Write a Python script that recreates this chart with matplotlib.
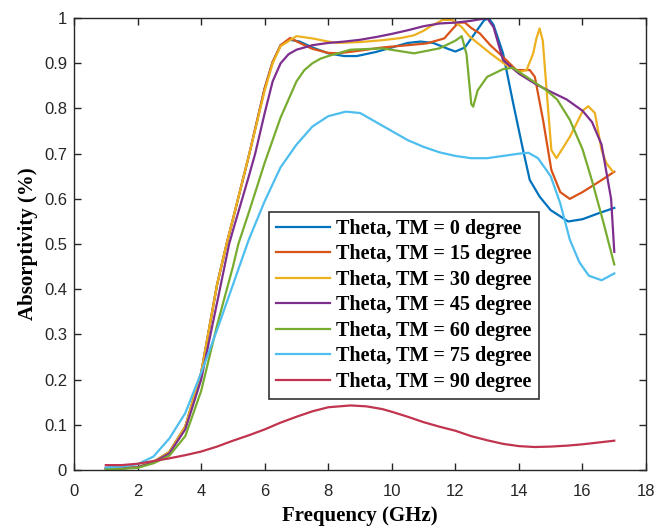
import matplotlib
matplotlib.use("Agg")
import matplotlib.pyplot as plt

# Absorptivity vs frequency for different TM incidence angles
f_0 = [1, 1.5, 2, 2.5, 3, 3.5, 4, 4.5, 4.8, 5, 5.5, 6, 6.25, 6.5, 6.8, 7.1, 7.5, 8, 8.5, 8.9,
       9.5, 10, 10.5, 10.9, 11.3, 11.8, 12, 12.3, 12.6, 12.9, 13.05, 13.2, 13.5, 13.82, 14.13,
       14.34, 14.65, 15, 15.55, 16, 16.5, 17]
a_0 = [0.004, 0.004, 0.006, 0.018, 0.04, 0.096, 0.215, 0.41, 0.5, 0.555, 0.695, 0.845, 0.903,
       0.94, 0.952, 0.948, 0.935, 0.922, 0.916, 0.916, 0.925, 0.935, 0.945, 0.948, 0.945,
       0.931, 0.926, 0.935, 0.965, 0.995, 1.0, 0.985, 0.922, 0.811, 0.708, 0.642, 0.605,
       0.575, 0.55, 0.555, 0.568, 0.58]

f_15 = [1, 1.5, 2, 2.5, 3, 3.5, 4, 4.5, 4.8, 5, 5.5, 6, 6.25, 6.5, 6.8, 7.1, 7.5, 8, 8.3, 9,
        9.7, 10.5, 11.1, 11.65, 11.9, 12.1, 12.3, 12.5, 12.77, 13.1, 13.5, 13.92, 14.34, 14.5,
        14.76, 15.02, 15.3, 15.6, 16, 16.5, 17]
a_15 = [0.004, 0.004, 0.006, 0.018, 0.04, 0.096, 0.215, 0.41, 0.5, 0.555, 0.695, 0.845, 0.903,
        0.94, 0.956, 0.945, 0.932, 0.923, 0.922, 0.928, 0.935, 0.94, 0.944, 0.955, 0.975,
        0.99, 0.99, 0.978, 0.966, 0.94, 0.914, 0.885, 0.885, 0.87, 0.774, 0.664, 0.615, 0.6,
        0.615, 0.637, 0.66]

f_30 = [1, 1.5, 2, 2.5, 3, 3.5, 4, 4.5, 4.8, 5, 5.5, 6, 6.25, 6.5, 7, 7.5, 8, 8.3, 9, 9.7,
        10.3, 10.7, 11, 11.2, 11.6, 11.9, 12.2, 12.45, 13.1, 13.6, 14.03, 14.24, 14.45, 14.55,
        14.65, 14.75, 14.92, 15.02, 15.18, 15.6, 16.02, 16.18, 16.39, 16.6, 16.75, 16.96]
a_30 = [0.004, 0.004, 0.006, 0.018, 0.04, 0.096, 0.215, 0.41, 0.5, 0.555, 0.695, 0.84, 0.9,
        0.938, 0.96, 0.955, 0.948, 0.945, 0.947, 0.951, 0.956, 0.962, 0.972, 0.981, 0.996,
        0.996, 0.98, 0.959, 0.922, 0.896, 0.881, 0.885, 0.922, 0.955, 0.977, 0.95, 0.796,
        0.708, 0.69, 0.737, 0.796, 0.805, 0.79, 0.708, 0.679, 0.66]

f_45 = [1, 1.5, 2, 2.5, 3, 3.5, 4, 4.5, 4.88, 5, 5.5, 5.7, 6, 6.25, 6.5, 6.75, 7, 7.5, 8, 8.5,
        9, 9.5, 10, 10.5, 11, 11.5, 12, 12.5, 13, 13.2, 13.5, 14, 14.5, 15, 15.5, 16, 16.3,
        16.6, 16.75, 16.9, 17]
a_45 = [0.004, 0.004, 0.006, 0.017, 0.037, 0.09, 0.2, 0.37, 0.5, 0.53, 0.65, 0.7, 0.79,
        0.86, 0.9, 0.92, 0.93, 0.94, 0.945, 0.948, 0.952, 0.958, 0.965, 0.973, 0.982, 0.988,
        0.99, 0.994, 1.0, 0.98, 0.907, 0.877, 0.855, 0.837, 0.82, 0.795, 0.77, 0.72, 0.66,
        0.6, 0.483]

f_60 = [1, 1.5, 2, 2.5, 3, 3.5, 4, 4.5, 5, 5.17, 5.5, 6, 6.5, 7, 7.25, 7.5, 7.75, 8, 8.7,
        9.7, 10.7, 11.5, 12, 12.2, 12.35, 12.5, 12.56, 12.7, 13, 13.5, 13.8, 14.24, 14.87,
        15.2, 15.6, 16, 16.3, 16.65, 17]
a_60 = [0.002, 0.003, 0.005, 0.015, 0.032, 0.075, 0.175, 0.32, 0.45, 0.5, 0.57, 0.68, 0.78,
        0.86, 0.885, 0.9, 0.91, 0.916, 0.93, 0.933, 0.922, 0.933, 0.95, 0.96, 0.92, 0.81,
        0.804, 0.84, 0.87, 0.887, 0.89, 0.87, 0.84, 0.82, 0.775, 0.71, 0.64, 0.55, 0.455]

f_75 = [1, 1.5, 2, 2.5, 3, 3.5, 4, 4.5, 5, 5.5, 6, 6.5, 7, 7.5, 8, 8.55, 9, 9.5, 10, 10.5,
        11, 11.5, 12, 12.5, 13, 13.5, 14, 14.3, 14.6, 15, 15.3, 15.6, 15.9, 16.2, 16.6, 17]
a_75 = [0.006, 0.008, 0.013, 0.03, 0.07, 0.126, 0.215, 0.31, 0.41, 0.51, 0.595, 0.67,
        0.72, 0.76, 0.783, 0.793, 0.79, 0.77, 0.75, 0.73, 0.715, 0.703, 0.695, 0.69, 0.69,
        0.695, 0.7, 0.702, 0.69, 0.65, 0.59, 0.51, 0.46, 0.43, 0.42, 0.435]

f_90 = [1, 1.5, 2, 2.5, 3, 3.5, 4, 4.5, 5, 5.5, 6, 6.5, 7, 7.5, 8, 8.7, 9.2, 9.7, 10, 10.5,
        11, 11.5, 12, 12.5, 13, 13.5, 14, 14.5, 15, 15.5, 16, 16.5, 17]
a_90 = [0.011, 0.011, 0.014, 0.02, 0.026, 0.033, 0.041, 0.052, 0.065, 0.077, 0.09, 0.105,
        0.118, 0.13, 0.139, 0.143, 0.141, 0.135, 0.129, 0.118, 0.106, 0.096, 0.087, 0.075,
        0.066, 0.058, 0.053, 0.051, 0.052, 0.054, 0.057, 0.061, 0.065]

labels = ['Theta, TM = 0 degree', 'Theta, TM = 15 degree', 'Theta, TM = 30 degree',
          'Theta, TM = 45 degree', 'Theta, TM = 60 degree', 'Theta, TM = 75 degree',
          'Theta, TM = 90 degree']
colors = ['#0072BD', '#D95319', '#EDB120', '#7E2F8E', '#77AC30', '#4DBEEE', '#C0344F']

series = [(f_0, a_0), (f_15, a_15), (f_30, a_30), (f_45, a_45),
          (f_60, a_60), (f_75, a_75), (f_90, a_90)]

fig = plt.figure(figsize=(6.67, 5.27), dpi=100)
ax = fig.add_axes([0.111, 0.108, 0.8576, 0.8577])

for (x, y), lab, c in zip(series, labels, colors):
    ax.plot(x, y, color=c, lw=1.6, label=lab)

ax.set_xlim(0, 18)
ax.set_ylim(0, 1)
ax.set_xticks(range(0, 19, 2))
ax.set_yticks([i / 10 for i in range(11)])
ax.set_yticklabels(['0', '0.1', '0.2', '0.3', '0.4', '0.5', '0.6', '0.7', '0.8', '0.9', '1'])

# MATLAB-like axes: ticks inside on all four sides
ax.tick_params(direction='in', top=True, right=True, length=5, width=1,
               colors='#262626', labelsize=12)
ax.tick_params(axis='x', pad=10)
ax.tick_params(axis='y', pad=5)
for lbl in ax.get_xticklabels() + ax.get_yticklabels():
    lbl.set_family('Liberation Sans')
for s in ax.spines.values():
    s.set_color('#262626')
    s.set_linewidth(1)

serif_bold = dict(family='Liberation Serif', weight='bold', size=15)
ax.set_xlabel('Frequency (GHz)', fontdict=serif_bold, labelpad=5)
ax.set_ylabel('Absorptivity (%)', fontdict=serif_bold, labelpad=4)

leg = ax.legend(loc='upper left', bbox_to_anchor=(269 / 667, 1 - 212 / 527),
                bbox_transform=fig.transFigure, borderaxespad=0,
                prop=dict(family='Liberation Serif', weight='bold', size=14.5),
                handlelength=2.7, handletextpad=0.3, labelspacing=0.27,
                borderpad=0.35, fancybox=False, framealpha=1)
leg.get_frame().set_edgecolor('#333333')
leg.get_frame().set_linewidth(1.2)

fig.savefig('out.png', dpi=100)
